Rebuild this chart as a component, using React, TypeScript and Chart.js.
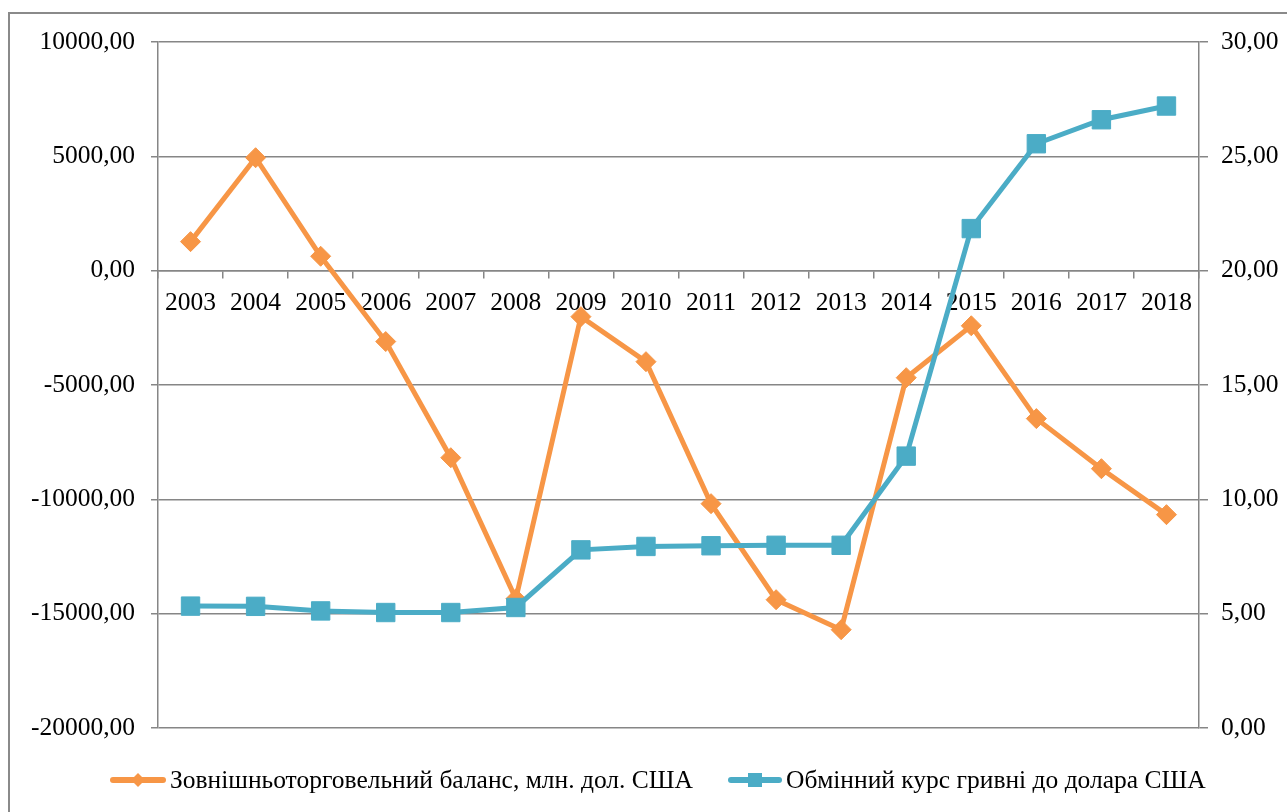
import React, { useEffect, useRef } from "react";
import { Chart, registerables } from "chart.js";

Chart.register(...registerables);

const years = ["2003", "2004", "2005", "2006", "2007", "2008", "2009", "2010", "2011", "2012", "2013", "2014", "2015", "2016", "2017", "2018"];
const tradeBalance = [1270, 4940, 630, -3100, -8180, -14350, -2010, -3980, -10190, -14390, -15700, -4680, -2410, -6470, -8660, -10670];
const exchangeRate = [5.33, 5.32, 5.12, 5.05, 5.05, 5.27, 7.79, 7.94, 7.97, 7.99, 7.99, 11.89, 21.84, 25.55, 26.6, 27.2];
const seriesNames = ["Зовнішньоторговельний баланс, млн. дол. США", "Обмінний курс гривні до долара США"];

const ORANGE = "#F79646";
const BLUE = "#4BACC6";
const GRID = "#868686";
const FONT = "'Liberation Serif', 'Times New Roman', serif";

const fmt = (v: number) => Number(v).toFixed(2).replace(".", ",");

const framePlugin = {
  id: "frame",
  beforeDraw(chart: any) {
    const ctx = chart.ctx;
    ctx.save();
    ctx.fillStyle = "#ffffff";
    ctx.fillRect(0, 0, chart.width, chart.height);
    ctx.strokeStyle = "#8a8a8a";
    ctx.lineWidth = 2;
    ctx.strokeRect(9, 13, chart.width + 20, chart.height + 20);
    ctx.restore();
  },
  afterDraw(chart: any) {
    const ctx = chart.ctx;
    const y = 780;
    ctx.save();
    ctx.font = `25.5px ${FONT}`;
    ctx.textBaseline = "middle";
    ctx.textAlign = "left";
    const items = [
      { x0: 110, len: 56, color: ORANGE, style: "diamond", text: seriesNames[0] },
      { x0: 728, len: 54, color: BLUE, style: "square", text: seriesNames[1] },
    ];
    items.forEach((it) => {
      ctx.strokeStyle = it.color;
      ctx.lineWidth = 6;
      ctx.lineCap = "round";
      ctx.beginPath();
      ctx.moveTo(it.x0 + 3, y);
      ctx.lineTo(it.x0 + it.len - 3, y);
      ctx.stroke();
      const cx = it.x0 + it.len / 2;
      ctx.fillStyle = it.color;
      ctx.beginPath();
      if (it.style === "diamond") {
        ctx.moveTo(cx - 7, y);
        ctx.lineTo(cx, y - 7);
        ctx.lineTo(cx + 7, y);
        ctx.lineTo(cx, y + 7);
        ctx.closePath();
      } else {
        ctx.rect(cx - 7, y - 7, 14, 14);
      }
      ctx.fill();
      ctx.fillStyle = "#000000";
      ctx.fillText(it.text, it.x0 + it.len + 4, y + 1);
    });
    ctx.restore();
  },
};

export default function App() {
  const ref = useRef<HTMLCanvasElement | null>(null);
  useEffect(() => {
    if (!ref.current) return;
    const chart = new Chart(ref.current, {
      type: "line",
      data: {
        labels: years,
        datasets: [
          {
            label: seriesNames[0],
            data: tradeBalance,
            yAxisID: "y",
            borderColor: ORANGE,
            backgroundColor: ORANGE,
            borderWidth: 5,
            pointStyle: "rectRot",
            pointRadius: 10,
            pointBorderWidth: 1,
            pointBackgroundColor: ORANGE,
            pointBorderColor: ORANGE,
            tension: 0,
            order: 1,
          },
          {
            label: seriesNames[1],
            data: exchangeRate,
            yAxisID: "y1",
            borderColor: BLUE,
            backgroundColor: BLUE,
            borderWidth: 5,
            pointStyle: "rect",
            pointRadius: 13,
            pointBorderWidth: 1,
            pointBackgroundColor: BLUE,
            pointBorderColor: BLUE,
            tension: 0,
            order: 0,
          },
        ],
      },
      options: {
        responsive: false,
        animation: false,
        devicePixelRatio: 1,
        layout: { padding: { left: 0, right: 0, top: 42, bottom: 84 } },
        plugins: { legend: { display: false }, tooltip: { enabled: false } },
        scales: {
          x: {
            position: { y: 0 } as any,
            offset: true,
            grid: { display: true, drawOnChartArea: false, drawTicks: true, tickLength: 7, offset: true, color: GRID, lineWidth: 1.5 },
            border: { display: true, color: GRID, width: 1.5 },
            ticks: { color: "#000", font: { family: FONT, size: 25.5 }, padding: 10, maxRotation: 0, autoSkip: false },
            afterFit: (s: any) => { s.height = 0; },
          },
          y: {
            position: "left",
            min: -20000,
            max: 10000,
            grid: { color: GRID, lineWidth: 1.5, tickLength: 7, drawTicks: true },
            border: { display: true, color: GRID, width: 1.5 },
            ticks: { stepSize: 5000, color: "#000", font: { family: FONT, size: 25.5 }, padding: 16, callback: (v: any) => fmt(v) },
            afterFit: (s: any) => { s.width = 158; },
          },
          y1: {
            position: "right",
            min: 0,
            max: 30,
            grid: { drawOnChartArea: false, color: GRID, lineWidth: 1.5, tickLength: 9, drawTicks: true },
            border: { display: true, color: GRID, width: 1.5 },
            ticks: { stepSize: 5, color: "#000", font: { family: FONT, size: 25.5 }, padding: 13, callback: (v: any) => fmt(v) },
            afterFit: (s: any) => { s.width = 88; },
          },
        },
      },
      plugins: [framePlugin],
    });
    return () => chart.destroy();
  }, []);
  return (
    <canvas
      ref={ref}
      width={1287}
      height={812}
      style={{ position: "fixed", left: 0, top: 0, width: 1287, height: 812, display: "block" }}
    />
  );
}
